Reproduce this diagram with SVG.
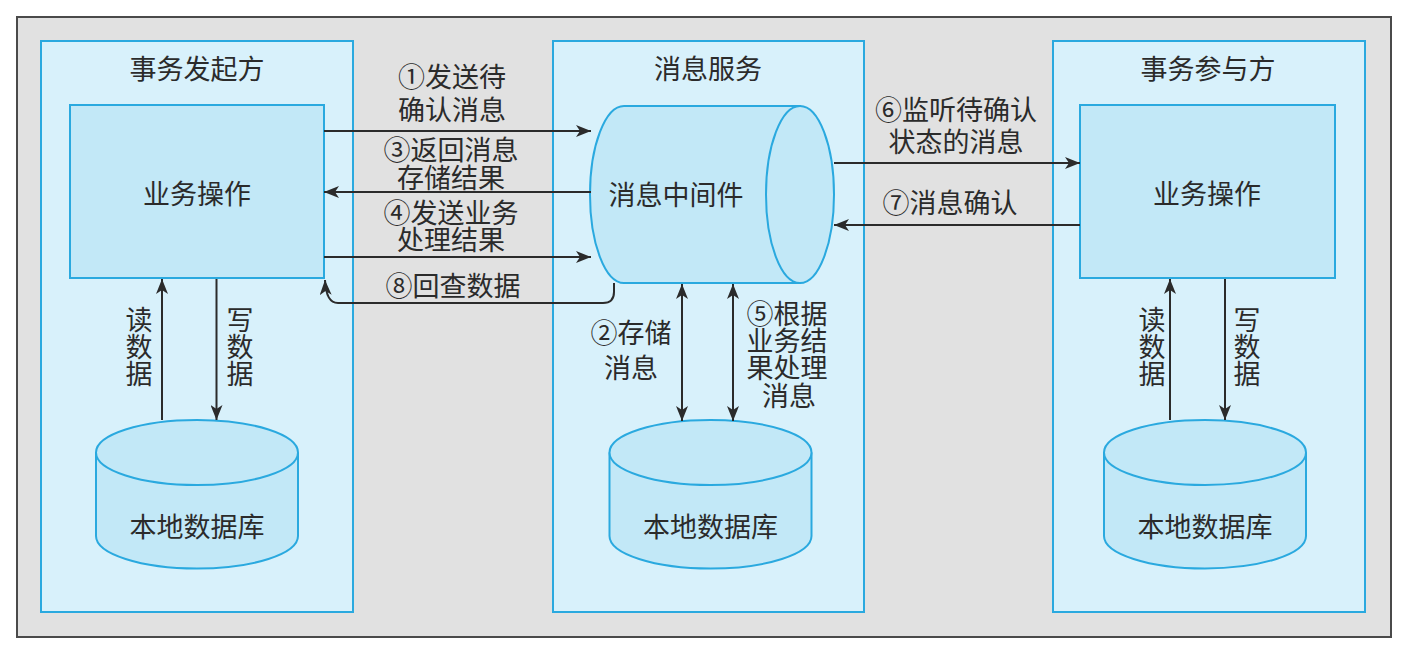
<svg xmlns="http://www.w3.org/2000/svg" width="1410" height="654" viewBox="0 0 1410 654">
  <style>
    .panel { fill: #d8f1fb; stroke: #2aa9df; stroke-width: 2; }
    .box { fill: #c2e8f7; stroke: #2aa9df; stroke-width: 2; }
    .shape { fill: #c2e8f7; stroke: #2aa9df; stroke-width: 2; }
    .t { font-family: "Noto Sans CJK SC", "Noto Sans", sans-serif; font-size: 27px; fill: #2b2b2b; text-anchor: middle; dominant-baseline: central; }
    .v { writing-mode: vertical-rl; text-orientation: upright; }
    .link { fill: none; stroke: #2b2b2b; stroke-width: 2; }
  </style>
  <defs>
    <marker id="arr" viewBox="0 0 15 12" markerWidth="15" markerHeight="12" refX="15" refY="6" markerUnits="userSpaceOnUse" orient="auto-start-reverse">
      <path d="M0,0 L15,6 L0,12 L4,6 z" fill="#2b2b2b"/>
    </marker>
  </defs>

  <!-- background frame -->
  <rect x="0" y="0" width="1410" height="654" fill="#ffffff"/>
  <rect x="17" y="17" width="1374" height="620" fill="#e1e1e1" stroke="#4a4a4a" stroke-width="2"/>

  <!-- initiator panel -->
  <g id="initiator">
    <rect class="panel" x="41" y="41" width="312" height="571"/>
    <text class="t" x="197" y="67">事务发起方</text>
  </g>
  <g id="initiator-op">
    <rect class="box" x="70" y="105" width="254" height="173"/>
    <text class="t" x="197" y="192">业务操作</text>
  </g>
  <g id="initiator-db">
    <path class="shape" d="M96,452.5 V536 A101,32.5 0 0 0 298,536 V452.5"/>
    <ellipse class="shape" cx="197" cy="452.5" rx="101" ry="32.5"/>
    <text class="t" x="197" y="525">本地数据库</text>
  </g>

  <!-- message service panel -->
  <g id="msg-service">
    <rect class="panel" x="553" y="41" width="311" height="571"/>
    <text class="t" x="708" y="67">消息服务</text>
  </g>
  <g id="middleware">
    <path class="shape" d="M624,106 H800 V283 H624 A34,88.5 0 0 1 624,106 z"/>
    <ellipse class="shape" cx="800" cy="194.5" rx="34" ry="88.5"/>
    <text class="t" x="676" y="193">消息中间件</text>
  </g>
  <g id="msg-db">
    <path class="shape" d="M609.5,452.5 V536 A101,32.5 0 0 0 811.5,536 V452.5"/>
    <ellipse class="shape" cx="710.5" cy="452.5" rx="101" ry="32.5"/>
    <text class="t" x="710.5" y="525">本地数据库</text>
  </g>

  <!-- participant panel -->
  <g id="participant">
    <rect class="panel" x="1053" y="41" width="312" height="571"/>
    <text class="t" x="1208" y="67">事务参与方</text>
  </g>
  <g id="participant-op">
    <rect class="box" x="1080" y="105" width="255" height="173"/>
    <text class="t" x="1207" y="192">业务操作</text>
  </g>
  <g id="participant-db">
    <path class="shape" d="M1104,452.5 V536 A101,32.5 0 0 0 1306,536 V452.5"/>
    <ellipse class="shape" cx="1205" cy="452.5" rx="101" ry="32.5"/>
    <text class="t" x="1205" y="525">本地数据库</text>
  </g>

  <!-- connectors -->
  <g id="connectors">
    <line class="link" x1="324" y1="131" x2="591" y2="131" marker-end="url(#arr)"/>
    <line class="link" x1="591" y1="192" x2="324" y2="192" marker-end="url(#arr)"/>
    <line class="link" x1="324" y1="257" x2="591" y2="257" marker-end="url(#arr)"/>
    <path class="link" d="M614,283 V292 Q614,303 603,303 H338 Q326,303 325,280" marker-end="url(#arr)"/>
    <line class="link" x1="834" y1="163" x2="1080" y2="163" marker-end="url(#arr)"/>
    <line class="link" x1="1080" y1="225" x2="834" y2="225" marker-end="url(#arr)"/>

    <line class="link" x1="162" y1="420" x2="162" y2="279" marker-end="url(#arr)"/>
    <line class="link" x1="216.5" y1="279" x2="216.5" y2="420" marker-end="url(#arr)"/>
    <line class="link" x1="1170" y1="420" x2="1170" y2="279" marker-end="url(#arr)"/>
    <line class="link" x1="1225" y1="279" x2="1225" y2="420" marker-end="url(#arr)"/>

    <line class="link" x1="682" y1="284" x2="682" y2="421" marker-start="url(#arr)" marker-end="url(#arr)"/>
    <line class="link" x1="733" y1="284" x2="733" y2="421" marker-start="url(#arr)" marker-end="url(#arr)"/>
  </g>

  <!-- connector labels, one text per label with a tspan per line -->
  <g id="labels">
    <text class="t" y="75"><tspan x="452">①发送待</tspan><tspan x="452" dy="33">确认消息</tspan></text>
    <text class="t" y="148"><tspan x="451">③返回消息</tspan><tspan x="451" dy="28">存储结果</tspan></text>
    <text class="t" y="211"><tspan x="451">④发送业务</tspan><tspan x="451" dy="27">处理结果</tspan></text>
    <text class="t" x="453" y="284">⑧回查数据</text>

    <text class="t" y="108"><tspan x="956">⑥监听待确认</tspan><tspan x="956" dy="32">状态的消息</tspan></text>
    <text class="t" x="950" y="201">⑦消息确认</text>

    <text class="t" y="331"><tspan x="631">②存储</tspan><tspan x="631" dy="35">消息</tspan></text>
    <text class="t" y="312"><tspan x="787">⑤根据</tspan><tspan x="787" dy="27">业务结</tspan><tspan x="787" dy="27">果处理</tspan><tspan x="789" dy="28">消息</tspan></text>

    <!-- read / write labels set vertically -->
    <text class="t v" x="139" y="347">读数据</text>
    <text class="t v" x="240" y="347">写数据</text>
    <text class="t v" x="1152" y="347">读数据</text>
    <text class="t v" x="1247" y="347">写数据</text>
  </g>
</svg>
